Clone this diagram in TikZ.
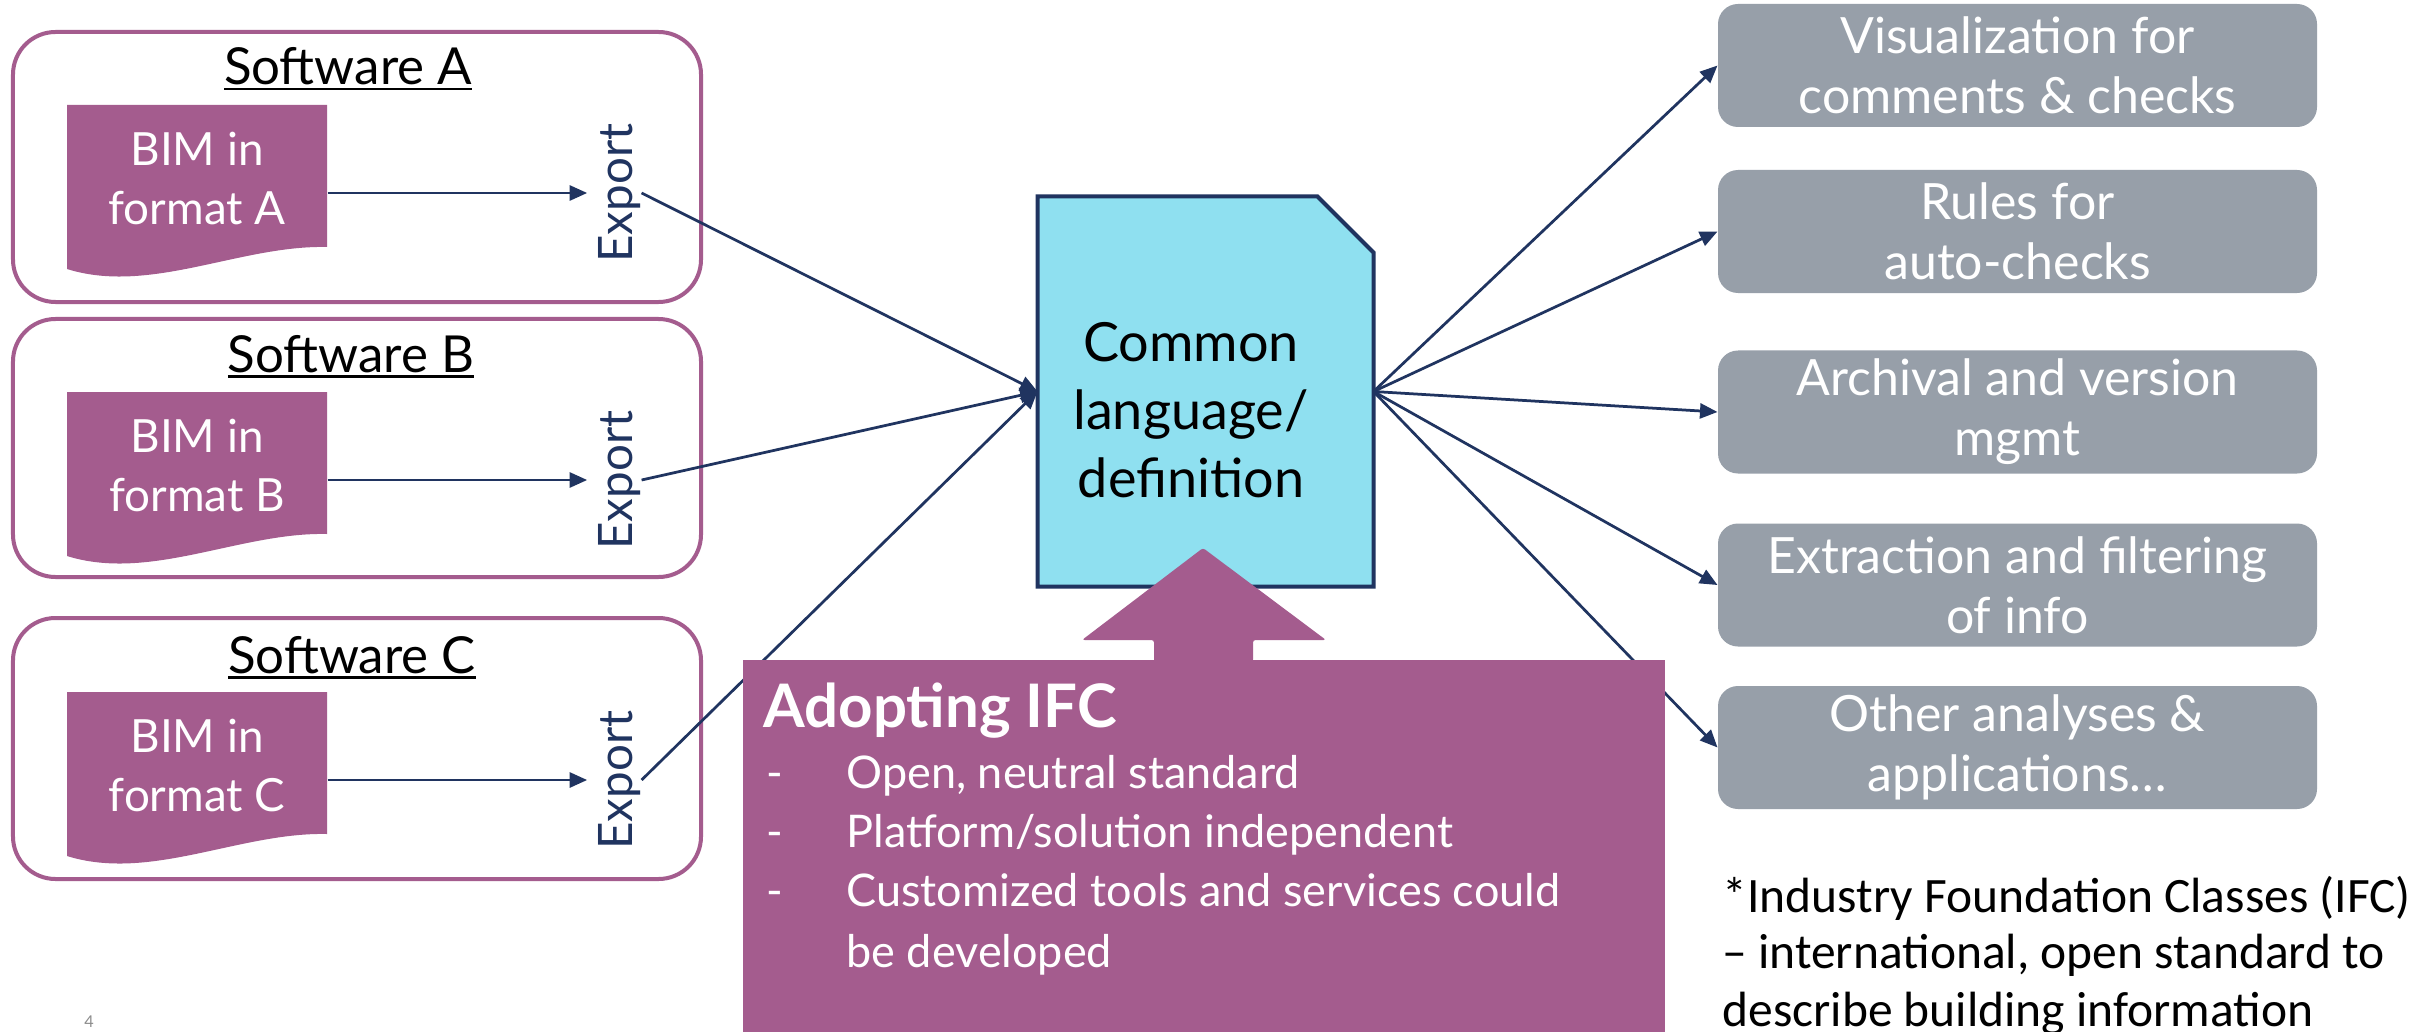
\documentclass[tikz,border=0pt]{standalone}
\usepackage{fontspec}
\setmainfont{Lato}
\newfontfamily\notefont{Carlito}
\newcommand\swul[1]{\setbox0\hbox{#1}\rlap{\rule[-2.2pt]{\wd0}{1.1pt}}\box0}
\usetikzlibrary{arrows.meta}
\definecolor{bimpurple}{RGB}{164,92,142}
\definecolor{navy}{RGB}{32,52,96}
\definecolor{cyanfill}{RGB}{143,224,240}
\definecolor{graybox}{RGB}{151,159,169}
\definecolor{pagegray}{RGB}{140,140,140}
\tikzset{
  swbox/.style={draw=bimpurple, line width=1.6pt, rounded corners=17pt, minimum width=275.2pt, inner sep=0pt},
  swtitle/.style={font=\fontsize{20.4}{24}\selectfont, anchor=base, inner sep=0pt},
  docarea/.style={minimum width=104pt, minimum height=60pt, inner sep=0pt},
  bimtext/.style={text=white, align=center, font=\fontsize{18.3}{23.6}\selectfont, inner sep=0pt},
  exporttext/.style={text=navy, rotate=90, font=\fontsize{19}{23}\selectfont, inner sep=0pt},
  arr/.style={draw=navy, line width=1.1pt, -{Triangle[length=7pt,width=6pt]}},
  gbox/.style={fill=graybox, rounded corners=8pt, minimum width=239.6pt, minimum height=49.2pt, text=white, align=center, font=\fontsize{20}{24}\selectfont, inner sep=0pt},
  bul/.style={anchor=base west, text=white, font=\fontsize{18}{22}\selectfont, inner sep=0pt},
  notetext/.style={anchor=base west, font=\notefont\fontsize{19.8}{24}\selectfont, inner sep=0pt}
}
\newcommand\bimdoc[2]{%
  \fill[bimpurple] (67,#2) -- (327,#2) -- (327,#2+142) .. controls (240,#2+140) and (150,#2+190) .. (67,#2+164) -- cycle;
  \node[docarea] (doc#1) at (197,#2+88) {};
  \node[bimtext] (doc#1text) at (197,#2+73) {BIM in\\format #1};
  \node[exporttext] (exp#1) at (620,#2+88) {Export};
  \draw[arr, shorten >=4.5pt] (doc#1.east) -- (exp#1.north);
}
\begin{document}
\begin{tikzpicture}[x=0.4pt,y=-0.4pt]
\fill[white] (0,0) rectangle (2417,1032);
\useasboundingbox (0,0) rectangle (2417,1032);

% software boxes
\node[swbox, minimum height=108pt] (swA) at (357,167) {};
\node[swbox, minimum height=103.2pt] (swB) at (357,448) {};
\node[swbox, minimum height=104.4pt] (swC) at (357,748.5) {};
\node[swtitle] (tA) at (348,85) {\swul{Software A}};
\node[swtitle] (tB) at (351,372) {\swul{Software B}};
\node[swtitle] (tC) at (352,673) {\swul{Software C}};

\bimdoc{A}{105}
\bimdoc{B}{392}
\bimdoc{C}{692}

% central document
\node[minimum width=134pt, minimum height=155.6pt, inner sep=0pt] (common) at (1205.5,391.5) {};
\draw[navy, line width=1.6pt, fill=cyanfill] (common.south west) -- (common.north west) -- ([xshift=-22.4pt]common.north east) -- ([yshift=-22.4pt]common.north east) -- (common.south east) -- cycle;
\node[font=\fontsize{21.6}{27.2}\selectfont, align=center, inner sep=0pt] (commontext) at (1191,410) {Common\\language/\\definition};

% gray boxes
\node[gbox] (g1) at (2017.5,65.5) {Visualization for\\comments \& checks};
\node[gbox] (g2) at (2017.5,231.5) {Rules for\\auto-checks};
\node[gbox] (g3) at (2017.5,412) {Archival and version\\mgmt};
\node[gbox] (g4) at (2017.5,585) {Extraction and filtering\\of info};
\node[gbox] (g5) at (2017.5,747.5) {Other analyses \&\\applications…};

% connectors
\draw[arr] (expA.south) -- (common.west);
\draw[arr] (expB.south) -- (common.west);
\draw[arr] (expC.south) -- (common.west);
\foreach \g in {g1,g2,g3,g4,g5} \draw[arr] (common.east) -- (\g.west);

% IFC callout
\node[fill=bimpurple, minimum width=368.8pt, minimum height=148.8pt, inner sep=0pt] (ifc) at (1204,846) {};
\fill[bimpurple, rounded corners=1pt] (1154,662) -- (1154,640) -- (1082,640) -- (1203,548) -- (1326,640) -- (1253,640) -- (1253,662) -- cycle;
\node[anchor=base west, text=white, font=\bfseries\fontsize{24}{28}\selectfont, inner sep=0pt] (ifctitle) at (763,727) {Adopting IFC};
\node[bul] (d1) at (766,788) {-};
\node[bul] (l1) at (846,788) {Open, neutral standard};
\node[bul] (d2) at (766,847) {-};
\node[bul] (l2) at (846,847) {Platform/solution independent};
\node[bul] (d3) at (766,906) {-};
\node[bul] (l3) at (846,906) {Customized tools and services could};
\node[bul] (l4) at (846,967) {be developed};

% footnote
\node[notetext] (n1) at (1722,912) {*Industry Foundation Classes (IFC)};
\node[notetext] (n2) at (1722,968) {– international, open standard to};
\node[notetext] (n3) at (1722,1026) {describe building information};

% page number
\node[text=pagegray, font=\fontsize{6.5}{8}\selectfont, inner sep=0pt] (pg) at (89,1022) {4};
\end{tikzpicture}
\end{document}
